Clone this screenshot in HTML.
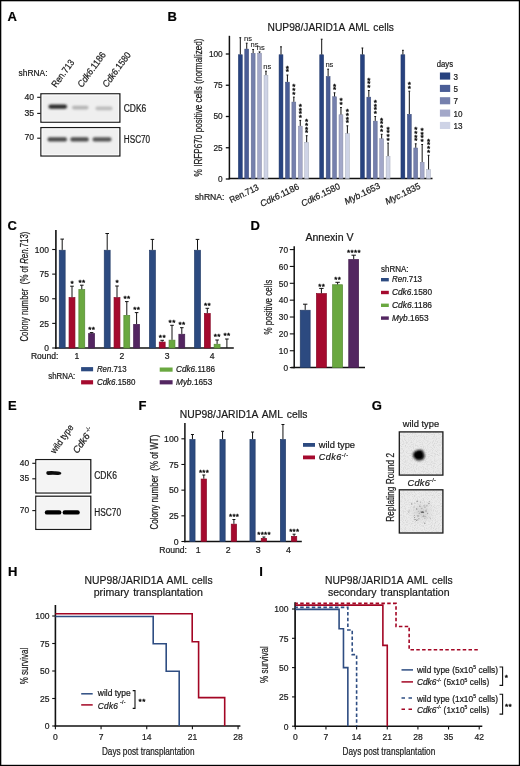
<!DOCTYPE html>
<html><head><meta charset="utf-8"><title>Figure</title>
<style>html,body{margin:0;padding:0;background:#fff;}svg{display:block;will-change:transform;}text{font-family:"Liberation Sans", sans-serif;stroke:#1a1a1a;stroke-width:0.22px;}</style>
</head><body>
<svg width="520" height="766" viewBox="0 0 520 766" font-family='"Liberation Sans", sans-serif' fill="#1a1a1a">
<rect x="0.00" y="0.00" width="520.00" height="766.00" fill="#fff"/>
<text x="7.60" y="20.60" font-size="13" font-weight="bold" fill="#000">A</text>
<text x="18.60" y="76.20" font-size="9" textLength="28.90" lengthAdjust="spacingAndGlyphs">shRNA:</text>
<text x="56.10" y="88.00" font-size="9.4" textLength="31.50" lengthAdjust="spacingAndGlyphs" transform="rotate(-54 56.10 88.00)">Ren.713</text>
<text x="82.10" y="88.00" font-size="9.4" textLength="41.00" lengthAdjust="spacingAndGlyphs" transform="rotate(-54 82.10 88.00)"><tspan font-style="italic">Cdk6</tspan>.1186</text>
<text x="107.10" y="88.00" font-size="9.4" textLength="41.00" lengthAdjust="spacingAndGlyphs" transform="rotate(-54 107.10 88.00)"><tspan font-style="italic">Cdk6</tspan>.1580</text>
<rect x="40.90" y="93.80" width="79.00" height="28.40" fill="#efefef" stroke="#1a1a1a" stroke-width="1.25"/>
<rect x="42.20" y="95.10" width="76.40" height="25.80" fill="none" stroke="#fbfbfb" stroke-width="0.9"/>
<rect x="40.90" y="127.60" width="79.00" height="28.40" fill="#efefef" stroke="#1a1a1a" stroke-width="1.25"/>
<rect x="42.20" y="128.90" width="76.40" height="25.80" fill="none" stroke="#fbfbfb" stroke-width="0.9"/>
<defs><filter id="bl" x="-20%" y="-50%" width="140%" height="200%"><feGaussianBlur stdDeviation="1.1"/></filter><filter id="bl2" x="-50%" y="-50%" width="200%" height="200%"><feGaussianBlur stdDeviation="1.6"/></filter><filter id="bl3" x="-50%" y="-50%" width="200%" height="200%"><feGaussianBlur stdDeviation="0.6"/></filter><filter id="bl4" x="-50%" y="-50%" width="200%" height="200%"><feGaussianBlur stdDeviation="0.9"/></filter></defs>
<g filter="url(#bl)">
<rect x="48.5" y="104.5" width="18.5" height="4.2" rx="2" fill="#2a2a2a"/>
<rect x="72" y="105.8" width="16.5" height="3.6" rx="1.8" fill="#b4b4b4"/>
<rect x="95.5" y="106.6" width="17" height="3.6" rx="1.8" fill="#bcbcbc"/>
<rect x="47.5" y="137.2" width="19.5" height="4.4" rx="2" fill="#4a4a4a"/>
<rect x="70.3" y="137.2" width="18.5" height="4.4" rx="2" fill="#4e4e4e"/>
<rect x="92.5" y="137.2" width="19" height="4.4" rx="2" fill="#555"/>
</g>
<line x1="37.20" y1="97.30" x2="40.60" y2="97.30" stroke="#111" stroke-width="1.1"/>
<text x="34.10" y="99.50" font-size="9.2" text-anchor="end" textLength="9.60" lengthAdjust="spacingAndGlyphs">40</text>
<line x1="37.20" y1="113.40" x2="40.60" y2="113.40" stroke="#111" stroke-width="1.1"/>
<text x="34.10" y="115.60" font-size="9.2" text-anchor="end" textLength="9.60" lengthAdjust="spacingAndGlyphs">35</text>
<line x1="37.20" y1="138.20" x2="40.60" y2="138.20" stroke="#111" stroke-width="1.1"/>
<text x="34.10" y="140.40" font-size="9.2" text-anchor="end" textLength="9.60" lengthAdjust="spacingAndGlyphs">70</text>
<text x="123.70" y="112.10" font-size="10" textLength="22.60" lengthAdjust="spacingAndGlyphs">CDK6</text>
<text x="123.80" y="142.80" font-size="10" textLength="26.30" lengthAdjust="spacingAndGlyphs">HSC70</text>
<text x="167.60" y="20.60" font-size="13" font-weight="bold" fill="#000">B</text>
<text x="267.60" y="30.80" font-size="11.5" textLength="126.20" lengthAdjust="spacingAndGlyphs" word-spacing="1.6">NUP98/JARID1A AML cells</text>
<line x1="229.40" y1="35.80" x2="229.40" y2="179.30" stroke="#111" stroke-width="1.5"/>
<line x1="228.70" y1="178.60" x2="432.50" y2="178.60" stroke="#111" stroke-width="1.5"/>
<line x1="225.80" y1="179.00" x2="229.40" y2="179.00" stroke="#111" stroke-width="1.3"/>
<text x="222.70" y="181.90" font-size="9.3" text-anchor="end" textLength="4.60" lengthAdjust="spacingAndGlyphs">0</text>
<line x1="225.80" y1="147.75" x2="229.40" y2="147.75" stroke="#111" stroke-width="1.3"/>
<text x="222.70" y="150.65" font-size="9.3" text-anchor="end" textLength="9.20" lengthAdjust="spacingAndGlyphs">25</text>
<line x1="225.80" y1="116.50" x2="229.40" y2="116.50" stroke="#111" stroke-width="1.3"/>
<text x="222.70" y="119.40" font-size="9.3" text-anchor="end" textLength="9.20" lengthAdjust="spacingAndGlyphs">50</text>
<line x1="225.80" y1="85.25" x2="229.40" y2="85.25" stroke="#111" stroke-width="1.3"/>
<text x="222.70" y="88.15" font-size="9.3" text-anchor="end" textLength="9.20" lengthAdjust="spacingAndGlyphs">75</text>
<line x1="225.80" y1="54.00" x2="229.40" y2="54.00" stroke="#111" stroke-width="1.3"/>
<text x="222.70" y="56.90" font-size="9.3" text-anchor="end" textLength="13.80" lengthAdjust="spacingAndGlyphs">100</text>
<text x="202.10" y="176.40" font-size="11.2" textLength="138.00" lengthAdjust="spacingAndGlyphs" transform="rotate(-90 202.10 176.40)">% IRFP670 positive cells (normalized)</text>
<rect x="238.35" y="54.75" width="3.90" height="123.85" fill="#27427f" stroke="#1f3668" stroke-width="0.5"/>
<line x1="240.30" y1="37.70" x2="240.30" y2="54.50" stroke="#111" stroke-width="1.0"/>
<line x1="239.40" y1="37.70" x2="241.20" y2="37.70" stroke="#111" stroke-width="1.0"/>
<rect x="244.77" y="49.05" width="3.90" height="129.55" fill="#4a5d96" stroke="#3c4c7a" stroke-width="0.5"/>
<line x1="246.72" y1="43.20" x2="246.72" y2="48.80" stroke="#111" stroke-width="1.0"/>
<line x1="245.82" y1="43.20" x2="247.62" y2="43.20" stroke="#111" stroke-width="1.0"/>
<text x="248.02" y="40.80" font-size="7.6" text-anchor="middle" textLength="8.00" lengthAdjust="spacingAndGlyphs" style="stroke-width:0.1px">ns</text>
<rect x="251.19" y="53.35" width="3.90" height="125.25" fill="#7580ad" stroke="#5f688d" stroke-width="0.5"/>
<line x1="253.14" y1="49.50" x2="253.14" y2="53.10" stroke="#111" stroke-width="1.0"/>
<line x1="252.24" y1="49.50" x2="254.04" y2="49.50" stroke="#111" stroke-width="1.0"/>
<text x="254.44" y="47.10" font-size="7.6" text-anchor="middle" textLength="8.00" lengthAdjust="spacingAndGlyphs" style="stroke-width:0.1px">ns</text>
<rect x="257.61" y="53.15" width="3.90" height="125.45" fill="#a3a8c9" stroke="#8589a4" stroke-width="0.5"/>
<line x1="259.56" y1="51.90" x2="259.56" y2="52.90" stroke="#111" stroke-width="1.0"/>
<line x1="258.66" y1="51.90" x2="260.46" y2="51.90" stroke="#111" stroke-width="1.0"/>
<text x="260.86" y="49.50" font-size="7.6" text-anchor="middle" textLength="8.00" lengthAdjust="spacingAndGlyphs" style="stroke-width:0.1px">ns</text>
<rect x="264.03" y="75.25" width="3.90" height="103.35" fill="#ced3e6" stroke="#a8adbc" stroke-width="0.5"/>
<line x1="265.98" y1="71.20" x2="265.98" y2="75.00" stroke="#111" stroke-width="1.0"/>
<line x1="265.08" y1="71.20" x2="266.88" y2="71.20" stroke="#111" stroke-width="1.0"/>
<text x="267.28" y="68.80" font-size="7.6" text-anchor="middle" textLength="8.00" lengthAdjust="spacingAndGlyphs" style="stroke-width:0.1px">ns</text>
<rect x="279.05" y="54.75" width="3.90" height="123.85" fill="#27427f" stroke="#1f3668" stroke-width="0.5"/>
<line x1="281.00" y1="46.80" x2="281.00" y2="54.50" stroke="#111" stroke-width="1.0"/>
<line x1="280.10" y1="46.80" x2="281.90" y2="46.80" stroke="#111" stroke-width="1.0"/>
<rect x="285.47" y="82.15" width="3.90" height="96.45" fill="#4a5d96" stroke="#3c4c7a" stroke-width="0.5"/>
<line x1="287.42" y1="75.00" x2="287.42" y2="81.90" stroke="#111" stroke-width="1.0"/>
<line x1="286.52" y1="75.00" x2="288.32" y2="75.00" stroke="#111" stroke-width="1.0"/>
<text x="287.42" y="74.46" font-size="8.12" text-anchor="middle" fill="#111" style="stroke:#111;stroke-width:0.4px">*</text>
<text x="287.42" y="70.81" font-size="8.12" text-anchor="middle" fill="#111" style="stroke:#111;stroke-width:0.4px">*</text>
<rect x="291.89" y="102.05" width="3.90" height="76.55" fill="#7580ad" stroke="#5f688d" stroke-width="0.5"/>
<line x1="293.84" y1="97.10" x2="293.84" y2="101.80" stroke="#111" stroke-width="1.0"/>
<line x1="292.94" y1="97.10" x2="294.74" y2="97.10" stroke="#111" stroke-width="1.0"/>
<text x="293.84" y="96.56" font-size="8.12" text-anchor="middle" fill="#111" style="stroke:#111;stroke-width:0.4px">*</text>
<text x="293.84" y="92.91" font-size="8.12" text-anchor="middle" fill="#111" style="stroke:#111;stroke-width:0.4px">*</text>
<text x="293.84" y="89.26" font-size="8.12" text-anchor="middle" fill="#111" style="stroke:#111;stroke-width:0.4px">*</text>
<rect x="298.31" y="126.15" width="3.90" height="52.45" fill="#a3a8c9" stroke="#8589a4" stroke-width="0.5"/>
<line x1="300.26" y1="120.40" x2="300.26" y2="125.90" stroke="#111" stroke-width="1.0"/>
<line x1="299.36" y1="120.40" x2="301.16" y2="120.40" stroke="#111" stroke-width="1.0"/>
<text x="300.26" y="119.86" font-size="8.12" text-anchor="middle" fill="#111" style="stroke:#111;stroke-width:0.4px">*</text>
<text x="300.26" y="116.21" font-size="8.12" text-anchor="middle" fill="#111" style="stroke:#111;stroke-width:0.4px">*</text>
<text x="300.26" y="112.56" font-size="8.12" text-anchor="middle" fill="#111" style="stroke:#111;stroke-width:0.4px">*</text>
<text x="300.26" y="108.91" font-size="8.12" text-anchor="middle" fill="#111" style="stroke:#111;stroke-width:0.4px">*</text>
<rect x="304.73" y="142.35" width="3.90" height="36.25" fill="#ced3e6" stroke="#a8adbc" stroke-width="0.5"/>
<line x1="306.68" y1="135.70" x2="306.68" y2="142.10" stroke="#111" stroke-width="1.0"/>
<line x1="305.78" y1="135.70" x2="307.58" y2="135.70" stroke="#111" stroke-width="1.0"/>
<text x="306.68" y="135.16" font-size="8.12" text-anchor="middle" fill="#111" style="stroke:#111;stroke-width:0.4px">*</text>
<text x="306.68" y="131.51" font-size="8.12" text-anchor="middle" fill="#111" style="stroke:#111;stroke-width:0.4px">*</text>
<text x="306.68" y="127.86" font-size="8.12" text-anchor="middle" fill="#111" style="stroke:#111;stroke-width:0.4px">*</text>
<text x="306.68" y="124.21" font-size="8.12" text-anchor="middle" fill="#111" style="stroke:#111;stroke-width:0.4px">*</text>
<rect x="319.75" y="54.75" width="3.90" height="123.85" fill="#27427f" stroke="#1f3668" stroke-width="0.5"/>
<line x1="321.70" y1="39.20" x2="321.70" y2="54.50" stroke="#111" stroke-width="1.0"/>
<line x1="320.80" y1="39.20" x2="322.60" y2="39.20" stroke="#111" stroke-width="1.0"/>
<rect x="326.17" y="76.45" width="3.90" height="102.15" fill="#4a5d96" stroke="#3c4c7a" stroke-width="0.5"/>
<line x1="328.12" y1="69.20" x2="328.12" y2="76.20" stroke="#111" stroke-width="1.0"/>
<line x1="327.22" y1="69.20" x2="329.02" y2="69.20" stroke="#111" stroke-width="1.0"/>
<text x="329.42" y="66.80" font-size="7.6" text-anchor="middle" textLength="8.00" lengthAdjust="spacingAndGlyphs" style="stroke-width:0.1px">ns</text>
<rect x="332.59" y="96.75" width="3.90" height="81.85" fill="#7580ad" stroke="#5f688d" stroke-width="0.5"/>
<line x1="334.54" y1="92.80" x2="334.54" y2="96.50" stroke="#111" stroke-width="1.0"/>
<line x1="333.64" y1="92.80" x2="335.44" y2="92.80" stroke="#111" stroke-width="1.0"/>
<text x="334.54" y="92.26" font-size="8.12" text-anchor="middle" fill="#111" style="stroke:#111;stroke-width:0.4px">*</text>
<text x="334.54" y="88.61" font-size="8.12" text-anchor="middle" fill="#111" style="stroke:#111;stroke-width:0.4px">*</text>
<rect x="339.01" y="114.75" width="3.90" height="63.85" fill="#a3a8c9" stroke="#8589a4" stroke-width="0.5"/>
<line x1="340.96" y1="107.50" x2="340.96" y2="114.50" stroke="#111" stroke-width="1.0"/>
<line x1="340.06" y1="107.50" x2="341.86" y2="107.50" stroke="#111" stroke-width="1.0"/>
<text x="340.96" y="106.96" font-size="8.12" text-anchor="middle" fill="#111" style="stroke:#111;stroke-width:0.4px">*</text>
<text x="340.96" y="103.31" font-size="8.12" text-anchor="middle" fill="#111" style="stroke:#111;stroke-width:0.4px">*</text>
<rect x="345.43" y="133.65" width="3.90" height="44.95" fill="#ced3e6" stroke="#a8adbc" stroke-width="0.5"/>
<line x1="347.38" y1="125.80" x2="347.38" y2="133.40" stroke="#111" stroke-width="1.0"/>
<line x1="346.48" y1="125.80" x2="348.28" y2="125.80" stroke="#111" stroke-width="1.0"/>
<text x="347.38" y="125.26" font-size="8.12" text-anchor="middle" fill="#111" style="stroke:#111;stroke-width:0.4px">*</text>
<text x="347.38" y="121.61" font-size="8.12" text-anchor="middle" fill="#111" style="stroke:#111;stroke-width:0.4px">*</text>
<text x="347.38" y="117.96" font-size="8.12" text-anchor="middle" fill="#111" style="stroke:#111;stroke-width:0.4px">*</text>
<text x="347.38" y="114.31" font-size="8.12" text-anchor="middle" fill="#111" style="stroke:#111;stroke-width:0.4px">*</text>
<rect x="360.45" y="54.75" width="3.90" height="123.85" fill="#27427f" stroke="#1f3668" stroke-width="0.5"/>
<line x1="362.40" y1="48.00" x2="362.40" y2="54.50" stroke="#111" stroke-width="1.0"/>
<line x1="361.50" y1="48.00" x2="363.30" y2="48.00" stroke="#111" stroke-width="1.0"/>
<rect x="366.87" y="97.15" width="3.90" height="81.45" fill="#4a5d96" stroke="#3c4c7a" stroke-width="0.5"/>
<line x1="368.82" y1="90.50" x2="368.82" y2="96.90" stroke="#111" stroke-width="1.0"/>
<line x1="367.92" y1="90.50" x2="369.72" y2="90.50" stroke="#111" stroke-width="1.0"/>
<text x="368.82" y="89.96" font-size="8.12" text-anchor="middle" fill="#111" style="stroke:#111;stroke-width:0.4px">*</text>
<text x="368.82" y="86.31" font-size="8.12" text-anchor="middle" fill="#111" style="stroke:#111;stroke-width:0.4px">*</text>
<text x="368.82" y="82.66" font-size="8.12" text-anchor="middle" fill="#111" style="stroke:#111;stroke-width:0.4px">*</text>
<rect x="373.29" y="121.15" width="3.90" height="57.45" fill="#7580ad" stroke="#5f688d" stroke-width="0.5"/>
<line x1="375.24" y1="116.50" x2="375.24" y2="120.90" stroke="#111" stroke-width="1.0"/>
<line x1="374.34" y1="116.50" x2="376.14" y2="116.50" stroke="#111" stroke-width="1.0"/>
<text x="375.24" y="115.96" font-size="8.12" text-anchor="middle" fill="#111" style="stroke:#111;stroke-width:0.4px">*</text>
<text x="375.24" y="112.31" font-size="8.12" text-anchor="middle" fill="#111" style="stroke:#111;stroke-width:0.4px">*</text>
<text x="375.24" y="108.66" font-size="8.12" text-anchor="middle" fill="#111" style="stroke:#111;stroke-width:0.4px">*</text>
<text x="375.24" y="105.01" font-size="8.12" text-anchor="middle" fill="#111" style="stroke:#111;stroke-width:0.4px">*</text>
<rect x="379.71" y="138.75" width="3.90" height="39.85" fill="#a3a8c9" stroke="#8589a4" stroke-width="0.5"/>
<line x1="381.66" y1="134.30" x2="381.66" y2="138.50" stroke="#111" stroke-width="1.0"/>
<line x1="380.76" y1="134.30" x2="382.56" y2="134.30" stroke="#111" stroke-width="1.0"/>
<text x="381.66" y="133.76" font-size="8.12" text-anchor="middle" fill="#111" style="stroke:#111;stroke-width:0.4px">*</text>
<text x="381.66" y="130.11" font-size="8.12" text-anchor="middle" fill="#111" style="stroke:#111;stroke-width:0.4px">*</text>
<text x="381.66" y="126.46" font-size="8.12" text-anchor="middle" fill="#111" style="stroke:#111;stroke-width:0.4px">*</text>
<text x="381.66" y="122.81" font-size="8.12" text-anchor="middle" fill="#111" style="stroke:#111;stroke-width:0.4px">*</text>
<rect x="386.13" y="156.25" width="3.90" height="22.35" fill="#ced3e6" stroke="#a8adbc" stroke-width="0.5"/>
<line x1="388.08" y1="143.10" x2="388.08" y2="156.00" stroke="#111" stroke-width="1.0"/>
<line x1="387.18" y1="143.10" x2="388.98" y2="143.10" stroke="#111" stroke-width="1.0"/>
<text x="388.08" y="142.56" font-size="8.12" text-anchor="middle" fill="#111" style="stroke:#111;stroke-width:0.4px">*</text>
<text x="388.08" y="138.91" font-size="8.12" text-anchor="middle" fill="#111" style="stroke:#111;stroke-width:0.4px">*</text>
<text x="388.08" y="135.26" font-size="8.12" text-anchor="middle" fill="#111" style="stroke:#111;stroke-width:0.4px">*</text>
<text x="388.08" y="131.61" font-size="8.12" text-anchor="middle" fill="#111" style="stroke:#111;stroke-width:0.4px">*</text>
<rect x="400.95" y="54.75" width="3.90" height="123.85" fill="#27427f" stroke="#1f3668" stroke-width="0.5"/>
<line x1="402.90" y1="50.30" x2="402.90" y2="54.50" stroke="#111" stroke-width="1.0"/>
<line x1="402.00" y1="50.30" x2="403.80" y2="50.30" stroke="#111" stroke-width="1.0"/>
<rect x="407.37" y="114.25" width="3.90" height="64.35" fill="#4a5d96" stroke="#3c4c7a" stroke-width="0.5"/>
<line x1="409.32" y1="91.20" x2="409.32" y2="114.00" stroke="#111" stroke-width="1.0"/>
<line x1="408.42" y1="91.20" x2="410.22" y2="91.20" stroke="#111" stroke-width="1.0"/>
<text x="409.32" y="90.66" font-size="8.12" text-anchor="middle" fill="#111" style="stroke:#111;stroke-width:0.4px">*</text>
<text x="409.32" y="87.01" font-size="8.12" text-anchor="middle" fill="#111" style="stroke:#111;stroke-width:0.4px">*</text>
<rect x="413.79" y="147.95" width="3.90" height="30.65" fill="#7580ad" stroke="#5f688d" stroke-width="0.5"/>
<line x1="415.74" y1="143.80" x2="415.74" y2="147.70" stroke="#111" stroke-width="1.0"/>
<line x1="414.84" y1="143.80" x2="416.64" y2="143.80" stroke="#111" stroke-width="1.0"/>
<text x="415.74" y="143.26" font-size="8.12" text-anchor="middle" fill="#111" style="stroke:#111;stroke-width:0.4px">*</text>
<text x="415.74" y="139.61" font-size="8.12" text-anchor="middle" fill="#111" style="stroke:#111;stroke-width:0.4px">*</text>
<text x="415.74" y="135.96" font-size="8.12" text-anchor="middle" fill="#111" style="stroke:#111;stroke-width:0.4px">*</text>
<text x="415.74" y="132.31" font-size="8.12" text-anchor="middle" fill="#111" style="stroke:#111;stroke-width:0.4px">*</text>
<rect x="420.21" y="162.25" width="3.90" height="16.35" fill="#a3a8c9" stroke="#8589a4" stroke-width="0.5"/>
<line x1="422.16" y1="144.50" x2="422.16" y2="162.00" stroke="#111" stroke-width="1.0"/>
<line x1="421.26" y1="144.50" x2="423.06" y2="144.50" stroke="#111" stroke-width="1.0"/>
<text x="422.16" y="143.96" font-size="8.12" text-anchor="middle" fill="#111" style="stroke:#111;stroke-width:0.4px">*</text>
<text x="422.16" y="140.31" font-size="8.12" text-anchor="middle" fill="#111" style="stroke:#111;stroke-width:0.4px">*</text>
<text x="422.16" y="136.66" font-size="8.12" text-anchor="middle" fill="#111" style="stroke:#111;stroke-width:0.4px">*</text>
<text x="422.16" y="133.01" font-size="8.12" text-anchor="middle" fill="#111" style="stroke:#111;stroke-width:0.4px">*</text>
<rect x="426.63" y="169.65" width="3.90" height="8.95" fill="#ced3e6" stroke="#a8adbc" stroke-width="0.5"/>
<line x1="428.58" y1="155.30" x2="428.58" y2="169.40" stroke="#111" stroke-width="1.0"/>
<line x1="427.68" y1="155.30" x2="429.48" y2="155.30" stroke="#111" stroke-width="1.0"/>
<text x="428.58" y="154.76" font-size="8.12" text-anchor="middle" fill="#111" style="stroke:#111;stroke-width:0.4px">*</text>
<text x="428.58" y="151.11" font-size="8.12" text-anchor="middle" fill="#111" style="stroke:#111;stroke-width:0.4px">*</text>
<text x="428.58" y="147.46" font-size="8.12" text-anchor="middle" fill="#111" style="stroke:#111;stroke-width:0.4px">*</text>
<text x="428.58" y="143.81" font-size="8.12" text-anchor="middle" fill="#111" style="stroke:#111;stroke-width:0.4px">*</text>
<text x="194.80" y="199.50" font-size="9" textLength="29.70" lengthAdjust="spacingAndGlyphs">shRNA:</text>
<text x="231.20" y="203.20" font-size="9" textLength="31.50" lengthAdjust="spacingAndGlyphs" transform="rotate(-26 231.20 203.20)">Ren.713</text>
<text x="262.10" y="207.10" font-size="9" textLength="42.00" lengthAdjust="spacingAndGlyphs" transform="rotate(-26 262.10 207.10)"><tspan font-style="italic">Cdk6</tspan>.1186</text>
<text x="303.00" y="206.80" font-size="9" textLength="42.00" lengthAdjust="spacingAndGlyphs" transform="rotate(-26 303.00 206.80)"><tspan font-style="italic">Cdk6</tspan>.1580</text>
<text x="346.20" y="204.80" font-size="9" textLength="38.50" lengthAdjust="spacingAndGlyphs" transform="rotate(-26 346.20 204.80)"><tspan font-style="italic">Myb</tspan>.1653</text>
<text x="386.90" y="204.80" font-size="9" textLength="38.00" lengthAdjust="spacingAndGlyphs" transform="rotate(-26 386.90 204.80)"><tspan font-style="italic">Myc</tspan>.1835</text>
<text x="436.80" y="67.30" font-size="8.4" textLength="16.30" lengthAdjust="spacingAndGlyphs">days</text>
<rect x="439.90" y="72.50" width="10.30" height="7.10" fill="#27427f"/>
<text x="453.40" y="79.60" font-size="9.0" textLength="4.50" lengthAdjust="spacingAndGlyphs">3</text>
<rect x="439.90" y="84.85" width="10.30" height="7.10" fill="#4a5d96"/>
<text x="453.40" y="91.95" font-size="9.0" textLength="4.50" lengthAdjust="spacingAndGlyphs">5</text>
<rect x="439.90" y="97.20" width="10.30" height="7.10" fill="#7580ad"/>
<text x="453.40" y="104.30" font-size="9.0" textLength="4.50" lengthAdjust="spacingAndGlyphs">7</text>
<rect x="439.90" y="109.55" width="10.30" height="7.10" fill="#a3a8c9"/>
<text x="453.40" y="116.65" font-size="9.0" textLength="9.00" lengthAdjust="spacingAndGlyphs">10</text>
<rect x="439.90" y="121.90" width="10.30" height="7.10" fill="#ced3e6"/>
<text x="453.40" y="129.00" font-size="9.0" textLength="9.00" lengthAdjust="spacingAndGlyphs">13</text>
<text x="7.40" y="229.70" font-size="13" font-weight="bold" fill="#000">C</text>
<line x1="55.90" y1="230.10" x2="55.90" y2="348.70" stroke="#111" stroke-width="1.6"/>
<line x1="55.10" y1="348.00" x2="233.80" y2="348.00" stroke="#111" stroke-width="1.5"/>
<line x1="52.20" y1="348.00" x2="55.90" y2="348.00" stroke="#111" stroke-width="1.1"/>
<text x="48.90" y="351.20" font-size="9.0" text-anchor="end" textLength="4.70" lengthAdjust="spacingAndGlyphs">0</text>
<line x1="52.20" y1="323.38" x2="55.90" y2="323.38" stroke="#111" stroke-width="1.1"/>
<text x="48.90" y="326.57" font-size="9.0" text-anchor="end" textLength="9.40" lengthAdjust="spacingAndGlyphs">25</text>
<line x1="52.20" y1="298.75" x2="55.90" y2="298.75" stroke="#111" stroke-width="1.1"/>
<text x="48.90" y="301.95" font-size="9.0" text-anchor="end" textLength="9.40" lengthAdjust="spacingAndGlyphs">50</text>
<line x1="52.20" y1="274.12" x2="55.90" y2="274.12" stroke="#111" stroke-width="1.1"/>
<text x="48.90" y="277.32" font-size="9.0" text-anchor="end" textLength="9.40" lengthAdjust="spacingAndGlyphs">75</text>
<line x1="52.20" y1="249.50" x2="55.90" y2="249.50" stroke="#111" stroke-width="1.1"/>
<text x="48.90" y="252.70" font-size="9.0" text-anchor="end" textLength="14.10" lengthAdjust="spacingAndGlyphs">100</text>
<text x="27.80" y="341.60" font-size="10.0" textLength="110.00" lengthAdjust="spacingAndGlyphs" transform="rotate(-90 27.80 341.60)">Colony number  (% of <tspan font-style="italic">Ren</tspan>.713)</text>
<rect x="59.25" y="250.25" width="5.90" height="97.75" fill="#2c4a80" stroke="#243c68" stroke-width="0.7"/>
<line x1="62.20" y1="239.10" x2="62.20" y2="249.90" stroke="#111" stroke-width="1.0"/>
<line x1="60.40" y1="239.10" x2="64.00" y2="239.10" stroke="#111" stroke-width="1.0"/>
<rect x="69.05" y="297.65" width="5.90" height="50.35" fill="#a50a2e" stroke="#870825" stroke-width="0.7"/>
<line x1="72.00" y1="286.20" x2="72.00" y2="297.30" stroke="#111" stroke-width="1.0"/>
<line x1="70.20" y1="286.20" x2="73.80" y2="286.20" stroke="#111" stroke-width="1.0"/>
<text x="72.00" y="285.66" font-size="8.12" text-anchor="middle" fill="#111" style="stroke:#111;stroke-width:0.4px">*</text>
<rect x="78.85" y="289.65" width="5.90" height="58.35" fill="#6aa840" stroke="#568934" stroke-width="0.7"/>
<line x1="81.80" y1="285.20" x2="81.80" y2="289.30" stroke="#111" stroke-width="1.0"/>
<line x1="80.00" y1="285.20" x2="83.60" y2="285.20" stroke="#111" stroke-width="1.0"/>
<text x="80.00" y="284.66" font-size="8.12" text-anchor="middle" fill="#111" style="stroke:#111;stroke-width:0.4px">*</text>
<text x="83.60" y="284.66" font-size="8.12" text-anchor="middle" fill="#111" style="stroke:#111;stroke-width:0.4px">*</text>
<rect x="88.65" y="333.60" width="5.90" height="14.40" fill="#532661" stroke="#441f4f" stroke-width="0.7"/>
<line x1="91.60" y1="332.60" x2="91.60" y2="333.25" stroke="#111" stroke-width="1.0"/>
<line x1="89.80" y1="332.60" x2="93.40" y2="332.60" stroke="#111" stroke-width="1.0"/>
<text x="89.80" y="332.06" font-size="8.12" text-anchor="middle" fill="#111" style="stroke:#111;stroke-width:0.4px">*</text>
<text x="93.40" y="332.06" font-size="8.12" text-anchor="middle" fill="#111" style="stroke:#111;stroke-width:0.4px">*</text>
<rect x="104.25" y="250.25" width="5.90" height="97.75" fill="#2c4a80" stroke="#243c68" stroke-width="0.7"/>
<line x1="107.20" y1="233.50" x2="107.20" y2="249.90" stroke="#111" stroke-width="1.0"/>
<line x1="105.40" y1="233.50" x2="109.00" y2="233.50" stroke="#111" stroke-width="1.0"/>
<rect x="114.05" y="297.65" width="5.90" height="50.35" fill="#a50a2e" stroke="#870825" stroke-width="0.7"/>
<line x1="117.00" y1="286.00" x2="117.00" y2="297.30" stroke="#111" stroke-width="1.0"/>
<line x1="115.20" y1="286.00" x2="118.80" y2="286.00" stroke="#111" stroke-width="1.0"/>
<text x="117.00" y="285.46" font-size="8.12" text-anchor="middle" fill="#111" style="stroke:#111;stroke-width:0.4px">*</text>
<rect x="123.85" y="315.35" width="5.90" height="32.65" fill="#6aa840" stroke="#568934" stroke-width="0.7"/>
<line x1="126.80" y1="301.60" x2="126.80" y2="315.00" stroke="#111" stroke-width="1.0"/>
<line x1="125.00" y1="301.60" x2="128.60" y2="301.60" stroke="#111" stroke-width="1.0"/>
<text x="125.00" y="301.06" font-size="8.12" text-anchor="middle" fill="#111" style="stroke:#111;stroke-width:0.4px">*</text>
<text x="128.60" y="301.06" font-size="8.12" text-anchor="middle" fill="#111" style="stroke:#111;stroke-width:0.4px">*</text>
<rect x="133.65" y="324.35" width="5.90" height="23.65" fill="#532661" stroke="#441f4f" stroke-width="0.7"/>
<line x1="136.60" y1="312.60" x2="136.60" y2="324.00" stroke="#111" stroke-width="1.0"/>
<line x1="134.80" y1="312.60" x2="138.40" y2="312.60" stroke="#111" stroke-width="1.0"/>
<text x="134.80" y="312.06" font-size="8.12" text-anchor="middle" fill="#111" style="stroke:#111;stroke-width:0.4px">*</text>
<text x="138.40" y="312.06" font-size="8.12" text-anchor="middle" fill="#111" style="stroke:#111;stroke-width:0.4px">*</text>
<rect x="149.45" y="250.25" width="5.90" height="97.75" fill="#2c4a80" stroke="#243c68" stroke-width="0.7"/>
<line x1="152.40" y1="239.40" x2="152.40" y2="249.90" stroke="#111" stroke-width="1.0"/>
<line x1="150.60" y1="239.40" x2="154.20" y2="239.40" stroke="#111" stroke-width="1.0"/>
<rect x="159.25" y="342.05" width="5.90" height="5.95" fill="#a50a2e" stroke="#870825" stroke-width="0.7"/>
<line x1="162.20" y1="340.30" x2="162.20" y2="341.70" stroke="#111" stroke-width="1.0"/>
<line x1="160.40" y1="340.30" x2="164.00" y2="340.30" stroke="#111" stroke-width="1.0"/>
<text x="160.40" y="339.76" font-size="8.12" text-anchor="middle" fill="#111" style="stroke:#111;stroke-width:0.4px">*</text>
<text x="164.00" y="339.76" font-size="8.12" text-anchor="middle" fill="#111" style="stroke:#111;stroke-width:0.4px">*</text>
<rect x="169.05" y="340.15" width="5.90" height="7.85" fill="#6aa840" stroke="#568934" stroke-width="0.7"/>
<line x1="172.00" y1="325.30" x2="172.00" y2="339.80" stroke="#111" stroke-width="1.0"/>
<line x1="170.20" y1="325.30" x2="173.80" y2="325.30" stroke="#111" stroke-width="1.0"/>
<text x="170.20" y="324.76" font-size="8.12" text-anchor="middle" fill="#111" style="stroke:#111;stroke-width:0.4px">*</text>
<text x="173.80" y="324.76" font-size="8.12" text-anchor="middle" fill="#111" style="stroke:#111;stroke-width:0.4px">*</text>
<rect x="178.85" y="334.25" width="5.90" height="13.75" fill="#532661" stroke="#441f4f" stroke-width="0.7"/>
<line x1="181.80" y1="327.70" x2="181.80" y2="333.90" stroke="#111" stroke-width="1.0"/>
<line x1="180.00" y1="327.70" x2="183.60" y2="327.70" stroke="#111" stroke-width="1.0"/>
<text x="180.00" y="327.16" font-size="8.12" text-anchor="middle" fill="#111" style="stroke:#111;stroke-width:0.4px">*</text>
<text x="183.60" y="327.16" font-size="8.12" text-anchor="middle" fill="#111" style="stroke:#111;stroke-width:0.4px">*</text>
<rect x="194.55" y="250.25" width="5.90" height="97.75" fill="#2c4a80" stroke="#243c68" stroke-width="0.7"/>
<line x1="197.50" y1="239.40" x2="197.50" y2="249.90" stroke="#111" stroke-width="1.0"/>
<line x1="195.70" y1="239.40" x2="199.30" y2="239.40" stroke="#111" stroke-width="1.0"/>
<rect x="204.35" y="313.55" width="5.90" height="34.45" fill="#a50a2e" stroke="#870825" stroke-width="0.7"/>
<line x1="207.30" y1="308.30" x2="207.30" y2="313.20" stroke="#111" stroke-width="1.0"/>
<line x1="205.50" y1="308.30" x2="209.10" y2="308.30" stroke="#111" stroke-width="1.0"/>
<text x="205.50" y="307.76" font-size="8.12" text-anchor="middle" fill="#111" style="stroke:#111;stroke-width:0.4px">*</text>
<text x="209.10" y="307.76" font-size="8.12" text-anchor="middle" fill="#111" style="stroke:#111;stroke-width:0.4px">*</text>
<rect x="214.15" y="344.25" width="5.90" height="3.75" fill="#6aa840" stroke="#568934" stroke-width="0.7"/>
<line x1="217.10" y1="340.00" x2="217.10" y2="343.90" stroke="#111" stroke-width="1.0"/>
<line x1="215.30" y1="340.00" x2="218.90" y2="340.00" stroke="#111" stroke-width="1.0"/>
<text x="215.30" y="339.46" font-size="8.12" text-anchor="middle" fill="#111" style="stroke:#111;stroke-width:0.4px">*</text>
<text x="218.90" y="339.46" font-size="8.12" text-anchor="middle" fill="#111" style="stroke:#111;stroke-width:0.4px">*</text>
<line x1="226.90" y1="339.00" x2="226.90" y2="347.90" stroke="#111" stroke-width="1.0"/>
<line x1="225.10" y1="339.00" x2="228.70" y2="339.00" stroke="#111" stroke-width="1.0"/>
<text x="225.10" y="338.46" font-size="8.12" text-anchor="middle" fill="#111" style="stroke:#111;stroke-width:0.4px">*</text>
<text x="228.70" y="338.46" font-size="8.12" text-anchor="middle" fill="#111" style="stroke:#111;stroke-width:0.4px">*</text>
<text x="30.90" y="359.00" font-size="8.6" textLength="27.50" lengthAdjust="spacingAndGlyphs">Round:</text>
<text x="76.90" y="359.00" font-size="8.6" text-anchor="middle">1</text>
<text x="121.90" y="359.00" font-size="8.6" text-anchor="middle">2</text>
<text x="167.10" y="359.00" font-size="8.6" text-anchor="middle">3</text>
<text x="212.20" y="359.00" font-size="8.6" text-anchor="middle">4</text>
<text x="48.30" y="379.10" font-size="8.6" textLength="27.00" lengthAdjust="spacingAndGlyphs">shRNA:</text>
<rect x="81.10" y="367.10" width="12.00" height="4.20" fill="#2c4a80"/>
<text x="96.90" y="371.70" font-size="8.6" textLength="29.60" lengthAdjust="spacingAndGlyphs"><tspan font-style="italic">Ren</tspan>.713</text>
<rect x="81.10" y="380.20" width="12.00" height="4.20" fill="#a50a2e"/>
<text x="96.90" y="384.80" font-size="8.6" textLength="38.50" lengthAdjust="spacingAndGlyphs"><tspan font-style="italic">Cdk6</tspan>.1580</text>
<rect x="159.70" y="367.50" width="12.90" height="4.20" fill="#6aa840"/>
<text x="176.00" y="371.90" font-size="8.6" textLength="39.00" lengthAdjust="spacingAndGlyphs"><tspan font-style="italic">Cdk6</tspan>.1186</text>
<rect x="159.70" y="380.20" width="12.90" height="4.20" fill="#532661"/>
<text x="176.00" y="384.80" font-size="8.6" textLength="36.30" lengthAdjust="spacingAndGlyphs"><tspan font-style="italic">Myb</tspan>.1653</text>
<text x="250.60" y="230.30" font-size="13" font-weight="bold" fill="#000">D</text>
<text x="305.40" y="240.50" font-size="10.2" textLength="48.20" lengthAdjust="spacingAndGlyphs">Annexin V</text>
<line x1="294.20" y1="246.30" x2="294.20" y2="368.30" stroke="#111" stroke-width="1.5"/>
<line x1="291.20" y1="367.60" x2="365.00" y2="367.60" stroke="#111" stroke-width="1.5"/>
<line x1="289.80" y1="367.60" x2="294.20" y2="367.60" stroke="#111" stroke-width="1.1"/>
<text x="288.00" y="370.80" font-size="9.0" text-anchor="end" textLength="4.60" lengthAdjust="spacingAndGlyphs">0</text>
<line x1="289.80" y1="350.74" x2="294.20" y2="350.74" stroke="#111" stroke-width="1.1"/>
<text x="288.00" y="353.94" font-size="9.0" text-anchor="end" textLength="9.20" lengthAdjust="spacingAndGlyphs">10</text>
<line x1="289.80" y1="333.88" x2="294.20" y2="333.88" stroke="#111" stroke-width="1.1"/>
<text x="288.00" y="337.08" font-size="9.0" text-anchor="end" textLength="9.20" lengthAdjust="spacingAndGlyphs">20</text>
<line x1="289.80" y1="317.02" x2="294.20" y2="317.02" stroke="#111" stroke-width="1.1"/>
<text x="288.00" y="320.22" font-size="9.0" text-anchor="end" textLength="9.20" lengthAdjust="spacingAndGlyphs">30</text>
<line x1="289.80" y1="300.16" x2="294.20" y2="300.16" stroke="#111" stroke-width="1.1"/>
<text x="288.00" y="303.36" font-size="9.0" text-anchor="end" textLength="9.20" lengthAdjust="spacingAndGlyphs">40</text>
<line x1="289.80" y1="283.30" x2="294.20" y2="283.30" stroke="#111" stroke-width="1.1"/>
<text x="288.00" y="286.50" font-size="9.0" text-anchor="end" textLength="9.20" lengthAdjust="spacingAndGlyphs">50</text>
<line x1="289.80" y1="266.44" x2="294.20" y2="266.44" stroke="#111" stroke-width="1.1"/>
<text x="288.00" y="269.64" font-size="9.0" text-anchor="end" textLength="9.20" lengthAdjust="spacingAndGlyphs">60</text>
<line x1="289.80" y1="249.58" x2="294.20" y2="249.58" stroke="#111" stroke-width="1.1"/>
<text x="288.00" y="252.78" font-size="9.0" text-anchor="end" textLength="9.20" lengthAdjust="spacingAndGlyphs">70</text>
<text x="272.10" y="334.60" font-size="10.9" textLength="55.00" lengthAdjust="spacingAndGlyphs" transform="rotate(-90 272.10 334.60)">% positive cells</text>
<rect x="300.25" y="310.25" width="9.90" height="57.35" fill="#2c4a80" stroke="#243c68" stroke-width="0.7"/>
<line x1="305.20" y1="304.20" x2="305.20" y2="309.90" stroke="#111" stroke-width="1.0"/>
<line x1="303.00" y1="304.20" x2="307.40" y2="304.20" stroke="#111" stroke-width="1.0"/>
<rect x="316.45" y="293.65" width="9.90" height="73.95" fill="#a50a2e" stroke="#870825" stroke-width="0.7"/>
<line x1="321.40" y1="288.40" x2="321.40" y2="293.30" stroke="#111" stroke-width="1.0"/>
<line x1="319.20" y1="288.40" x2="323.60" y2="288.40" stroke="#111" stroke-width="1.0"/>
<text x="319.65" y="288.56" font-size="7.83" text-anchor="middle" fill="#111" style="stroke:#111;stroke-width:0.4px">*</text>
<text x="323.15" y="288.56" font-size="7.83" text-anchor="middle" fill="#111" style="stroke:#111;stroke-width:0.4px">*</text>
<rect x="332.65" y="284.75" width="9.90" height="82.85" fill="#6aa840" stroke="#568934" stroke-width="0.7"/>
<line x1="337.60" y1="282.30" x2="337.60" y2="284.40" stroke="#111" stroke-width="1.0"/>
<line x1="335.40" y1="282.30" x2="339.80" y2="282.30" stroke="#111" stroke-width="1.0"/>
<text x="335.85" y="282.46" font-size="7.83" text-anchor="middle" fill="#111" style="stroke:#111;stroke-width:0.4px">*</text>
<text x="339.35" y="282.46" font-size="7.83" text-anchor="middle" fill="#111" style="stroke:#111;stroke-width:0.4px">*</text>
<rect x="348.75" y="259.45" width="9.90" height="108.15" fill="#532661" stroke="#441f4f" stroke-width="0.7"/>
<line x1="353.70" y1="255.20" x2="353.70" y2="259.10" stroke="#111" stroke-width="1.0"/>
<line x1="351.50" y1="255.20" x2="355.90" y2="255.20" stroke="#111" stroke-width="1.0"/>
<text x="348.45" y="255.36" font-size="7.83" text-anchor="middle" fill="#111" style="stroke:#111;stroke-width:0.4px">*</text>
<text x="351.95" y="255.36" font-size="7.83" text-anchor="middle" fill="#111" style="stroke:#111;stroke-width:0.4px">*</text>
<text x="355.45" y="255.36" font-size="7.83" text-anchor="middle" fill="#111" style="stroke:#111;stroke-width:0.4px">*</text>
<text x="358.95" y="255.36" font-size="7.83" text-anchor="middle" fill="#111" style="stroke:#111;stroke-width:0.4px">*</text>
<text x="381.00" y="271.50" font-size="8.6" textLength="27.50" lengthAdjust="spacingAndGlyphs">shRNA:</text>
<rect x="381.00" y="278.00" width="7.80" height="3.40" fill="#2c4a80"/>
<text x="392.00" y="282.40" font-size="8.6" textLength="30.00" lengthAdjust="spacingAndGlyphs"><tspan font-style="italic">Ren</tspan>.713</text>
<rect x="381.00" y="290.80" width="7.80" height="3.40" fill="#a50a2e"/>
<text x="392.00" y="295.20" font-size="8.6" textLength="40.00" lengthAdjust="spacingAndGlyphs"><tspan font-style="italic">Cdk6</tspan>.1580</text>
<rect x="381.00" y="303.60" width="7.80" height="3.40" fill="#6aa840"/>
<text x="392.00" y="308.00" font-size="8.6" textLength="40.00" lengthAdjust="spacingAndGlyphs"><tspan font-style="italic">Cdk6</tspan>.1186</text>
<rect x="381.00" y="316.40" width="7.80" height="3.40" fill="#532661"/>
<text x="392.00" y="320.80" font-size="8.6" textLength="36.60" lengthAdjust="spacingAndGlyphs"><tspan font-style="italic">Myb</tspan>.1653</text>
<text x="7.90" y="410.20" font-size="13" font-weight="bold" fill="#000">E</text>
<text x="55.00" y="454.30" font-size="9.4" textLength="33.00" lengthAdjust="spacingAndGlyphs" transform="rotate(-55 55.00 454.30)">wild type</text>
<text x="77.6" y="454.0" font-size="9.4" transform="rotate(-55 77.6 454.0)" fill="#1a1a1a"><tspan font-style="italic">Cdk6</tspan><tspan font-size="5.6" dy="-3.8"> -/-</tspan></text>
<rect x="35.80" y="459.60" width="55.00" height="33.40" fill="#f4f4f4" stroke="#1a1a1a" stroke-width="1.25"/>
<rect x="37.10" y="460.90" width="52.40" height="30.80" fill="none" stroke="#fbfbfb" stroke-width="0.9"/>
<rect x="35.80" y="496.20" width="55.00" height="33.20" fill="#f4f4f4" stroke="#1a1a1a" stroke-width="1.25"/>
<rect x="37.10" y="497.50" width="52.40" height="30.60" fill="none" stroke="#fbfbfb" stroke-width="0.9"/>
<g filter="url(#bl3)">
<path d="M47.2 471.2 Q54 470.9 58 471.5 Q61.5 471.9 61.4 473.3 Q61.2 475.1 57.5 474.9 Q53 474.6 48 474.9 Q46.2 474.8 46.3 473 Q46.5 471.3 47.2 471.2Z" fill="#0a0a0a"/>
<rect x="44.8" y="510.2" width="16.6" height="4.4" rx="2.2" fill="#050505"/>
<rect x="62.6" y="510.2" width="17.2" height="4.4" rx="2.2" fill="#050505"/>
</g>
<line x1="32.30" y1="463.30" x2="35.80" y2="463.30" stroke="#111" stroke-width="1.1"/>
<text x="29.10" y="465.90" font-size="9.2" text-anchor="end" textLength="9.30" lengthAdjust="spacingAndGlyphs">40</text>
<line x1="32.30" y1="478.80" x2="35.80" y2="478.80" stroke="#111" stroke-width="1.1"/>
<text x="29.10" y="481.40" font-size="9.2" text-anchor="end" textLength="9.30" lengthAdjust="spacingAndGlyphs">35</text>
<line x1="32.30" y1="510.60" x2="35.80" y2="510.60" stroke="#111" stroke-width="1.1"/>
<text x="29.10" y="513.20" font-size="9.2" text-anchor="end" textLength="9.30" lengthAdjust="spacingAndGlyphs">70</text>
<text x="94.20" y="479.10" font-size="10" textLength="22.70" lengthAdjust="spacingAndGlyphs">CDK6</text>
<text x="94.30" y="515.70" font-size="10" textLength="26.80" lengthAdjust="spacingAndGlyphs">HSC70</text>
<text x="138.60" y="410.00" font-size="13" font-weight="bold" fill="#000">F</text>
<text x="179.80" y="417.90" font-size="11.5" textLength="127.70" lengthAdjust="spacingAndGlyphs" word-spacing="1.6">NUP98/JARID1A AML cells</text>
<line x1="184.90" y1="423.00" x2="184.90" y2="542.20" stroke="#111" stroke-width="1.5"/>
<line x1="184.20" y1="541.50" x2="301.80" y2="541.50" stroke="#111" stroke-width="1.5"/>
<line x1="181.40" y1="541.50" x2="184.90" y2="541.50" stroke="#111" stroke-width="1.1"/>
<text x="178.60" y="544.70" font-size="9.0" text-anchor="end" textLength="4.85" lengthAdjust="spacingAndGlyphs">0</text>
<line x1="181.40" y1="515.83" x2="184.90" y2="515.83" stroke="#111" stroke-width="1.1"/>
<text x="178.60" y="519.03" font-size="9.0" text-anchor="end" textLength="9.70" lengthAdjust="spacingAndGlyphs">25</text>
<line x1="181.40" y1="490.15" x2="184.90" y2="490.15" stroke="#111" stroke-width="1.1"/>
<text x="178.60" y="493.35" font-size="9.0" text-anchor="end" textLength="9.70" lengthAdjust="spacingAndGlyphs">50</text>
<line x1="181.40" y1="464.48" x2="184.90" y2="464.48" stroke="#111" stroke-width="1.1"/>
<text x="178.60" y="467.68" font-size="9.0" text-anchor="end" textLength="9.70" lengthAdjust="spacingAndGlyphs">75</text>
<line x1="181.40" y1="438.80" x2="184.90" y2="438.80" stroke="#111" stroke-width="1.1"/>
<text x="178.60" y="442.00" font-size="9.0" text-anchor="end" textLength="14.55" lengthAdjust="spacingAndGlyphs">100</text>
<text x="157.90" y="529.60" font-size="10.3" textLength="95.00" lengthAdjust="spacingAndGlyphs" transform="rotate(-90 157.90 529.60)">Colony number  (% of WT)</text>
<rect x="189.85" y="439.55" width="5.20" height="101.95" fill="#2c4a80" stroke="#243c68" stroke-width="0.7"/>
<line x1="192.45" y1="434.50" x2="192.45" y2="439.20" stroke="#111" stroke-width="1.0"/>
<line x1="190.95" y1="434.50" x2="193.95" y2="434.50" stroke="#111" stroke-width="1.0"/>
<rect x="201.15" y="479.05" width="5.30" height="62.45" fill="#a50a2e" stroke="#870825" stroke-width="0.7"/>
<line x1="203.80" y1="475.00" x2="203.80" y2="478.70" stroke="#111" stroke-width="1.0"/>
<line x1="202.30" y1="475.00" x2="205.30" y2="475.00" stroke="#111" stroke-width="1.0"/>
<text x="200.40" y="474.56" font-size="7.83" text-anchor="middle" fill="#111" style="stroke:#111;stroke-width:0.4px">*</text>
<text x="203.80" y="474.56" font-size="7.83" text-anchor="middle" fill="#111" style="stroke:#111;stroke-width:0.4px">*</text>
<text x="207.20" y="474.56" font-size="7.83" text-anchor="middle" fill="#111" style="stroke:#111;stroke-width:0.4px">*</text>
<rect x="219.95" y="439.55" width="5.20" height="101.95" fill="#2c4a80" stroke="#243c68" stroke-width="0.7"/>
<line x1="222.55" y1="431.30" x2="222.55" y2="439.20" stroke="#111" stroke-width="1.0"/>
<line x1="221.05" y1="431.30" x2="224.05" y2="431.30" stroke="#111" stroke-width="1.0"/>
<rect x="231.25" y="524.15" width="5.30" height="17.35" fill="#a50a2e" stroke="#870825" stroke-width="0.7"/>
<line x1="233.90" y1="519.50" x2="233.90" y2="523.80" stroke="#111" stroke-width="1.0"/>
<line x1="232.40" y1="519.50" x2="235.40" y2="519.50" stroke="#111" stroke-width="1.0"/>
<text x="230.50" y="519.06" font-size="7.83" text-anchor="middle" fill="#111" style="stroke:#111;stroke-width:0.4px">*</text>
<text x="233.90" y="519.06" font-size="7.83" text-anchor="middle" fill="#111" style="stroke:#111;stroke-width:0.4px">*</text>
<text x="237.30" y="519.06" font-size="7.83" text-anchor="middle" fill="#111" style="stroke:#111;stroke-width:0.4px">*</text>
<rect x="249.95" y="439.55" width="5.20" height="101.95" fill="#2c4a80" stroke="#243c68" stroke-width="0.7"/>
<line x1="252.55" y1="432.00" x2="252.55" y2="439.20" stroke="#111" stroke-width="1.0"/>
<line x1="251.05" y1="432.00" x2="254.05" y2="432.00" stroke="#111" stroke-width="1.0"/>
<rect x="261.25" y="538.35" width="5.30" height="3.15" fill="#a50a2e" stroke="#870825" stroke-width="0.7"/>
<line x1="263.90" y1="537.00" x2="263.90" y2="538.00" stroke="#111" stroke-width="1.0"/>
<line x1="262.40" y1="537.00" x2="265.40" y2="537.00" stroke="#111" stroke-width="1.0"/>
<text x="258.80" y="536.56" font-size="7.83" text-anchor="middle" fill="#111" style="stroke:#111;stroke-width:0.4px">*</text>
<text x="262.20" y="536.56" font-size="7.83" text-anchor="middle" fill="#111" style="stroke:#111;stroke-width:0.4px">*</text>
<text x="265.60" y="536.56" font-size="7.83" text-anchor="middle" fill="#111" style="stroke:#111;stroke-width:0.4px">*</text>
<text x="269.00" y="536.56" font-size="7.83" text-anchor="middle" fill="#111" style="stroke:#111;stroke-width:0.4px">*</text>
<rect x="280.35" y="439.55" width="5.20" height="101.95" fill="#2c4a80" stroke="#243c68" stroke-width="0.7"/>
<line x1="282.95" y1="424.50" x2="282.95" y2="439.20" stroke="#111" stroke-width="1.0"/>
<line x1="281.45" y1="424.50" x2="284.45" y2="424.50" stroke="#111" stroke-width="1.0"/>
<rect x="291.45" y="536.35" width="5.30" height="5.15" fill="#a50a2e" stroke="#870825" stroke-width="0.7"/>
<line x1="294.10" y1="534.20" x2="294.10" y2="536.00" stroke="#111" stroke-width="1.0"/>
<line x1="292.60" y1="534.20" x2="295.60" y2="534.20" stroke="#111" stroke-width="1.0"/>
<text x="290.70" y="533.76" font-size="7.83" text-anchor="middle" fill="#111" style="stroke:#111;stroke-width:0.4px">*</text>
<text x="294.10" y="533.76" font-size="7.83" text-anchor="middle" fill="#111" style="stroke:#111;stroke-width:0.4px">*</text>
<text x="297.50" y="533.76" font-size="7.83" text-anchor="middle" fill="#111" style="stroke:#111;stroke-width:0.4px">*</text>
<text x="159.30" y="552.60" font-size="8.8" textLength="27.70" lengthAdjust="spacingAndGlyphs">Round:</text>
<text x="198.15" y="552.60" font-size="8.8" text-anchor="middle">1</text>
<text x="228.25" y="552.60" font-size="8.8" text-anchor="middle">2</text>
<text x="258.25" y="552.60" font-size="8.8" text-anchor="middle">3</text>
<text x="288.55" y="552.60" font-size="8.8" text-anchor="middle">4</text>
<rect x="303.00" y="443.00" width="12.00" height="3.80" fill="#2c4a80"/>
<text x="318.80" y="448.00" font-size="9" textLength="36.20" lengthAdjust="spacingAndGlyphs">wild type</text>
<rect x="303.00" y="455.50" width="12.00" height="3.80" fill="#a50a2e"/>
<text x="318.8" y="460.3" font-size="9" fill="#1a1a1a" textLength="29.2" lengthAdjust="spacing"><tspan font-style="italic">Cdk6</tspan><tspan font-size="5.6" dy="-3.8">-/-</tspan></text>
<text x="371.80" y="410.10" font-size="13" font-weight="bold" fill="#000">G</text>
<text x="402.80" y="427.00" font-size="9.3" textLength="36.30" lengthAdjust="spacingAndGlyphs">wild type</text>
<text x="407.5" y="485.8" font-size="9.2" fill="#1a1a1a" textLength="28.4" lengthAdjust="spacing"><tspan font-style="italic">Cdk6</tspan><tspan font-size="5.6" dy="-3.8">-/-</tspan></text>
<defs><radialGradient id="cloud" cx="0.5" cy="0.5" r="0.5"><stop offset="0" stop-color="#b8b8b8" stop-opacity="0.55"/><stop offset="1" stop-color="#d0d0d0" stop-opacity="0"/></radialGradient><filter id="noise" x="0" y="0" width="100%" height="100%"><feTurbulence type="fractalNoise" baseFrequency="0.9" numOctaves="2" seed="3" result="n"/><feColorMatrix type="matrix" values="0 0 0 0 0  0 0 0 0 0  0 0 0 0 0  0 0 0 -2.2 1.25" result="a"/><feComposite in="a" in2="SourceGraphic" operator="in"/></filter></defs>
<rect x="399.3" y="431.90" width="43.6" height="43.2" fill="#ebebeb"/>
<rect x="399.3" y="431.90" width="43.6" height="43.2" fill="#000" opacity="0.10" filter="url(#noise)"/>
<rect x="399.3" y="489.80" width="43.6" height="43.2" fill="#ebebeb"/>
<rect x="399.3" y="489.80" width="43.6" height="43.2" fill="#000" opacity="0.10" filter="url(#noise)"/>
<ellipse cx="421.5" cy="512" rx="14" ry="13" fill="url(#cloud)"/>
<circle cx="428.4" cy="503.5" r="0.50" fill="#999"/><circle cx="424.8" cy="523.2" r="0.67" fill="#888"/><circle cx="426.4" cy="509.1" r="0.46" fill="#999"/><circle cx="423.8" cy="515.9" r="0.57" fill="#999"/><circle cx="417.9" cy="520.4" r="0.41" fill="#b0b0b0"/><circle cx="422.7" cy="511.4" r="0.36" fill="#b0b0b0"/><circle cx="415.8" cy="519.6" r="0.51" fill="#888"/><circle cx="427.6" cy="513.6" r="0.63" fill="#999"/><circle cx="422.9" cy="516.5" r="0.57" fill="#aaa"/><circle cx="429.9" cy="517.8" r="0.48" fill="#b0b0b0"/><circle cx="420.3" cy="512.1" r="0.51" fill="#aaa"/><circle cx="429.3" cy="501.6" r="0.69" fill="#b0b0b0"/><circle cx="417.5" cy="519.8" r="0.45" fill="#888"/><circle cx="425.3" cy="516.3" r="0.64" fill="#b0b0b0"/><circle cx="424.9" cy="518.2" r="0.65" fill="#b0b0b0"/><circle cx="418.2" cy="511.7" r="0.37" fill="#888"/><circle cx="414.8" cy="519.6" r="0.62" fill="#999"/><circle cx="419.9" cy="506.2" r="0.64" fill="#888"/><circle cx="426.0" cy="511.0" r="0.68" fill="#888"/><circle cx="423.9" cy="516.2" r="0.52" fill="#999"/><circle cx="416.6" cy="520.4" r="0.51" fill="#888"/><circle cx="414.9" cy="503.1" r="0.47" fill="#888"/><circle cx="420.8" cy="502.8" r="0.47" fill="#b0b0b0"/><circle cx="429.3" cy="503.6" r="0.69" fill="#b0b0b0"/><circle cx="409.0" cy="510.1" r="0.42" fill="#aaa"/><circle cx="425.0" cy="507.1" r="0.59" fill="#888"/><circle cx="420.3" cy="502.1" r="0.57" fill="#aaa"/><circle cx="409.2" cy="510.3" r="0.46" fill="#b0b0b0"/><circle cx="426.9" cy="505.8" r="0.60" fill="#888"/><circle cx="421.9" cy="512.1" r="0.57" fill="#b0b0b0"/><circle cx="421.7" cy="508.4" r="0.57" fill="#aaa"/><circle cx="420.5" cy="511.7" r="0.41" fill="#aaa"/><circle cx="430.6" cy="518.7" r="0.52" fill="#aaa"/><circle cx="414.6" cy="515.4" r="0.48" fill="#888"/><circle cx="414.1" cy="507.0" r="0.60" fill="#aaa"/><circle cx="418.0" cy="516.0" r="0.65" fill="#888"/><circle cx="417.2" cy="501.3" r="0.69" fill="#888"/><circle cx="418.9" cy="518.8" r="0.54" fill="#888"/><circle cx="416.7" cy="509.0" r="0.64" fill="#888"/><circle cx="424.0" cy="505.8" r="0.51" fill="#888"/><circle cx="419.3" cy="513.4" r="0.69" fill="#b0b0b0"/><circle cx="411.7" cy="503.9" r="0.64" fill="#888"/><circle cx="414.6" cy="517.5" r="0.55" fill="#888"/><circle cx="427.1" cy="518.0" r="0.50" fill="#b0b0b0"/><circle cx="408.8" cy="512.0" r="0.69" fill="#b0b0b0"/>
<g filter="url(#bl3)"><ellipse cx="422.5" cy="512.2" rx="1.6" ry="0.9" fill="#666"/></g>
<g filter="url(#bl4)"><path d="M424.75 455.10 L424.41 457.23 L423.39 459.29 L421.14 460.15 L418.90 460.61 L416.61 460.26 L414.96 458.77 L413.44 457.21 L412.86 455.10 L413.16 452.88 L415.03 451.50 L416.72 450.20 L418.90 450.01 L421.28 449.74 L423.22 451.08 L423.90 453.17Z" fill="#151515"/><ellipse cx="418.6" cy="455.0" rx="4.2" ry="3.9" fill="#000"/></g>
<rect x="399.3" y="431.90" width="43.6" height="43.2" fill="none" stroke="#1a1a1a" stroke-width="1.3"/>
<rect x="399.3" y="489.80" width="43.6" height="43.2" fill="none" stroke="#1a1a1a" stroke-width="1.3"/>
<text x="394.00" y="521.70" font-size="10.2" textLength="68.80" lengthAdjust="spacingAndGlyphs" transform="rotate(-90 394.00 521.70)">Replating Round 2</text>
<text x="7.90" y="576.00" font-size="13" font-weight="bold" fill="#000">H</text>
<text x="84.50" y="584.00" font-size="11.5" textLength="128.10" lengthAdjust="spacingAndGlyphs" word-spacing="1.6">NUP98/JARID1A AML cells</text>
<text x="93.70" y="596.10" font-size="11.5" textLength="109.10" lengthAdjust="spacingAndGlyphs" word-spacing="1.2">primary transplantation</text>
<line x1="55.40" y1="605.00" x2="55.40" y2="726.70" stroke="#111" stroke-width="1.6"/>
<line x1="54.60" y1="726.00" x2="240.40" y2="726.00" stroke="#111" stroke-width="1.5"/>
<line x1="52.20" y1="726.00" x2="55.40" y2="726.00" stroke="#111" stroke-width="1.1"/>
<text x="49.40" y="729.30" font-size="9.3" text-anchor="end" textLength="4.75" lengthAdjust="spacingAndGlyphs">0</text>
<line x1="52.20" y1="698.50" x2="55.40" y2="698.50" stroke="#111" stroke-width="1.1"/>
<text x="49.40" y="701.80" font-size="9.3" text-anchor="end" textLength="9.50" lengthAdjust="spacingAndGlyphs">25</text>
<line x1="52.20" y1="671.00" x2="55.40" y2="671.00" stroke="#111" stroke-width="1.1"/>
<text x="49.40" y="674.30" font-size="9.3" text-anchor="end" textLength="9.50" lengthAdjust="spacingAndGlyphs">50</text>
<line x1="52.20" y1="643.50" x2="55.40" y2="643.50" stroke="#111" stroke-width="1.1"/>
<text x="49.40" y="646.80" font-size="9.3" text-anchor="end" textLength="9.50" lengthAdjust="spacingAndGlyphs">75</text>
<line x1="52.20" y1="616.00" x2="55.40" y2="616.00" stroke="#111" stroke-width="1.1"/>
<text x="49.40" y="619.30" font-size="9.3" text-anchor="end" textLength="14.25" lengthAdjust="spacingAndGlyphs">100</text>
<line x1="55.40" y1="726.00" x2="55.40" y2="729.30" stroke="#111" stroke-width="1.1"/>
<text x="55.40" y="740.30" font-size="9.3" text-anchor="middle" textLength="4.75" lengthAdjust="spacingAndGlyphs">0</text>
<line x1="101.07" y1="726.00" x2="101.07" y2="729.30" stroke="#111" stroke-width="1.1"/>
<text x="101.07" y="740.30" font-size="9.3" text-anchor="middle" textLength="4.75" lengthAdjust="spacingAndGlyphs">7</text>
<line x1="146.74" y1="726.00" x2="146.74" y2="729.30" stroke="#111" stroke-width="1.1"/>
<text x="146.74" y="740.30" font-size="9.3" text-anchor="middle" textLength="9.50" lengthAdjust="spacingAndGlyphs">14</text>
<line x1="192.40" y1="726.00" x2="192.40" y2="729.30" stroke="#111" stroke-width="1.1"/>
<text x="192.40" y="740.30" font-size="9.3" text-anchor="middle" textLength="9.50" lengthAdjust="spacingAndGlyphs">21</text>
<line x1="238.07" y1="726.00" x2="238.07" y2="729.30" stroke="#111" stroke-width="1.1"/>
<text x="238.07" y="740.30" font-size="9.3" text-anchor="middle" textLength="9.50" lengthAdjust="spacingAndGlyphs">28</text>
<text x="28.50" y="684.30" font-size="10.3" textLength="36.60" lengthAdjust="spacingAndGlyphs" transform="rotate(-90 28.50 684.30)">% survival</text>
<text x="101.90" y="754.60" font-size="10.5" textLength="92.60" lengthAdjust="spacingAndGlyphs">Days post transplantation</text>
<path d="M55.40 616.50 L153.20 616.50 L153.20 643.70 L166.20 643.70 L166.20 671.30 L179.20 671.30 L179.20 726.00" stroke="#2e4d82" stroke-width="1.6" fill="none" stroke-linejoin="miter"/>
<path d="M55.40 613.70 L192.20 613.70 L192.20 641.80 L198.60 641.80 L198.60 697.60 L224.70 697.60 L224.70 726.00" stroke="#a30624" stroke-width="1.6" fill="none" stroke-linejoin="miter"/>
<line x1="81.20" y1="693.80" x2="92.70" y2="693.80" stroke="#2e4d82" stroke-width="1.5"/>
<line x1="81.20" y1="704.90" x2="92.70" y2="704.90" stroke="#a30624" stroke-width="1.5"/>
<text x="97.80" y="696.20" font-size="8.3" textLength="32.90" lengthAdjust="spacingAndGlyphs">wild type</text>
<text x="97.8" y="708.5" font-size="8.3" fill="#1a1a1a" textLength="27.6" lengthAdjust="spacing"><tspan font-style="italic">Cdk6</tspan><tspan font-size="5.2" dy="-5"> -/-</tspan></text>
<path d="M132.7 690.6 L135.0 690.6 L135.0 708.4 L132.7 708.4" stroke="#111" stroke-width="1.1" fill="none"/>
<text x="140.20" y="703.76" font-size="8.12" text-anchor="middle" fill="#111" style="stroke:#111;stroke-width:0.4px">*</text>
<text x="143.80" y="703.76" font-size="8.12" text-anchor="middle" fill="#111" style="stroke:#111;stroke-width:0.4px">*</text>
<text x="259.30" y="575.70" font-size="13" font-weight="bold" fill="#000">I</text>
<text x="325.00" y="583.80" font-size="11.5" textLength="127.70" lengthAdjust="spacingAndGlyphs" word-spacing="1.6">NUP98/JARID1A AML cells</text>
<text x="327.90" y="595.80" font-size="11.5" textLength="121.60" lengthAdjust="spacingAndGlyphs" word-spacing="1.2">secondary transplantation</text>
<line x1="295.10" y1="602.20" x2="295.10" y2="726.90" stroke="#111" stroke-width="1.7"/>
<line x1="294.30" y1="726.20" x2="482.30" y2="726.20" stroke="#111" stroke-width="1.5"/>
<line x1="292.00" y1="726.20" x2="295.30" y2="726.20" stroke="#111" stroke-width="1.1"/>
<text x="288.40" y="729.50" font-size="9.3" text-anchor="end" textLength="4.75" lengthAdjust="spacingAndGlyphs">0</text>
<line x1="292.00" y1="696.90" x2="295.30" y2="696.90" stroke="#111" stroke-width="1.1"/>
<text x="288.40" y="700.20" font-size="9.3" text-anchor="end" textLength="9.50" lengthAdjust="spacingAndGlyphs">25</text>
<line x1="292.00" y1="667.60" x2="295.30" y2="667.60" stroke="#111" stroke-width="1.1"/>
<text x="288.40" y="670.90" font-size="9.3" text-anchor="end" textLength="9.50" lengthAdjust="spacingAndGlyphs">50</text>
<line x1="292.00" y1="638.30" x2="295.30" y2="638.30" stroke="#111" stroke-width="1.1"/>
<text x="288.40" y="641.60" font-size="9.3" text-anchor="end" textLength="9.50" lengthAdjust="spacingAndGlyphs">75</text>
<line x1="292.00" y1="609.00" x2="295.30" y2="609.00" stroke="#111" stroke-width="1.1"/>
<text x="288.40" y="612.30" font-size="9.3" text-anchor="end" textLength="14.25" lengthAdjust="spacingAndGlyphs">100</text>
<line x1="295.30" y1="726.20" x2="295.30" y2="729.50" stroke="#111" stroke-width="1.1"/>
<text x="295.30" y="740.30" font-size="9.3" text-anchor="middle" textLength="4.75" lengthAdjust="spacingAndGlyphs">0</text>
<line x1="325.95" y1="726.20" x2="325.95" y2="729.50" stroke="#111" stroke-width="1.1"/>
<text x="325.95" y="740.30" font-size="9.3" text-anchor="middle" textLength="4.75" lengthAdjust="spacingAndGlyphs">7</text>
<line x1="356.61" y1="726.20" x2="356.61" y2="729.50" stroke="#111" stroke-width="1.1"/>
<text x="356.61" y="740.30" font-size="9.3" text-anchor="middle" textLength="9.50" lengthAdjust="spacingAndGlyphs">14</text>
<line x1="387.26" y1="726.20" x2="387.26" y2="729.50" stroke="#111" stroke-width="1.1"/>
<text x="387.26" y="740.30" font-size="9.3" text-anchor="middle" textLength="9.50" lengthAdjust="spacingAndGlyphs">21</text>
<line x1="417.91" y1="726.20" x2="417.91" y2="729.50" stroke="#111" stroke-width="1.1"/>
<text x="417.91" y="740.30" font-size="9.3" text-anchor="middle" textLength="9.50" lengthAdjust="spacingAndGlyphs">28</text>
<line x1="448.56" y1="726.20" x2="448.56" y2="729.50" stroke="#111" stroke-width="1.1"/>
<text x="448.56" y="740.30" font-size="9.3" text-anchor="middle" textLength="9.50" lengthAdjust="spacingAndGlyphs">35</text>
<line x1="479.22" y1="726.20" x2="479.22" y2="729.50" stroke="#111" stroke-width="1.1"/>
<text x="479.22" y="740.30" font-size="9.3" text-anchor="middle" textLength="9.50" lengthAdjust="spacingAndGlyphs">42</text>
<text x="267.90" y="683.00" font-size="10.3" textLength="36.90" lengthAdjust="spacingAndGlyphs" transform="rotate(-90 267.90 683.00)">% survival</text>
<text x="342.60" y="754.60" font-size="10.5" textLength="92.60" lengthAdjust="spacingAndGlyphs">Days post transplantation</text>
<path d="M295.30 609.40 L339.09 609.40 L339.09 628.70 L343.47 628.70 L343.47 667.60 L347.85 667.60 L347.85 726.20" stroke="#2e4d82" stroke-width="1.6" fill="none" stroke-linejoin="miter"/>
<path d="M295.30 607.40 L347.85 607.40 L347.85 630.00 L352.23 630.00 L352.23 654.60 L356.61 654.60 L356.61 726.20" stroke="#2e4d82" stroke-width="1.6" fill="none" stroke-linejoin="miter" stroke-dasharray="3.5 2.3" stroke-dashoffset="0.9"/>
<path d="M295.30 605.10 L382.88 605.10 L382.88 645.40 L387.26 645.40 L387.26 726.20" stroke="#a30624" stroke-width="1.6" fill="none" stroke-linejoin="miter"/>
<path d="M295.30 603.40 L396.02 603.40 L396.02 626.50 L409.15 626.50 L409.15 649.70 L479.22 649.70" stroke="#a30624" stroke-width="1.6" fill="none" stroke-linejoin="miter" stroke-dasharray="3.5 2.3" stroke-dashoffset="0.9"/>
<line x1="401.50" y1="669.90" x2="413.00" y2="669.90" stroke="#2e4d82" stroke-width="1.5"/>
<line x1="401.50" y1="681.90" x2="413.00" y2="681.90" stroke="#a30624" stroke-width="1.5"/>
<line x1="401.50" y1="698.10" x2="413.00" y2="698.10" stroke="#2e4d82" stroke-width="1.5" stroke-dasharray="3.5 3.5"/>
<line x1="401.50" y1="709.20" x2="413.00" y2="709.20" stroke="#a30624" stroke-width="1.5" stroke-dasharray="3.5 3.5"/>
<text x="416.9" y="672.70" font-size="8.3" fill="#1a1a1a" textLength="81.2" lengthAdjust="spacing">wild type (5x10<tspan font-size="5" dy="-3.4">5</tspan><tspan dy="3.4"> cells)</tspan></text>
<text x="416.9" y="684.90" font-size="8.3" fill="#1a1a1a" textLength="72.4" lengthAdjust="spacing"><tspan font-style="italic">Cdk6</tspan><tspan font-size="5" dy="-3.4">-/-</tspan><tspan dy="3.4"> (5x10</tspan><tspan font-size="5" dy="-3.4">5</tspan><tspan dy="3.4"> cells)</tspan></text>
<text x="416.9" y="701.50" font-size="8.3" fill="#1a1a1a" textLength="81.2" lengthAdjust="spacing">wild type (1x10<tspan font-size="5" dy="-3.4">5</tspan><tspan dy="3.4"> cells)</tspan></text>
<text x="416.9" y="712.60" font-size="8.3" fill="#1a1a1a" textLength="72.4" lengthAdjust="spacing"><tspan font-style="italic">Cdk6</tspan><tspan font-size="5" dy="-3.4">-/-</tspan><tspan dy="3.4"> (1x10</tspan><tspan font-size="5" dy="-3.4">5</tspan><tspan dy="3.4"> cells)</tspan></text>
<path d="M499.5 667.0 L502.6 667.0 L502.6 685.4 L499.5 685.4" stroke="#111" stroke-width="1.1" fill="none"/>
<path d="M499.5 694.3 L502.6 694.3 L502.6 714.1 L499.5 714.1" stroke="#111" stroke-width="1.1" fill="none"/>
<text x="506.40" y="680.36" font-size="8.12" text-anchor="middle" fill="#111" style="stroke:#111;stroke-width:0.4px">*</text>
<text x="506.60" y="708.56" font-size="8.12" text-anchor="middle" fill="#111" style="stroke:#111;stroke-width:0.4px">*</text>
<text x="510.20" y="708.56" font-size="8.12" text-anchor="middle" fill="#111" style="stroke:#111;stroke-width:0.4px">*</text>
<rect x="0.00" y="0.00" width="1.30" height="766.00" fill="#000"/>
<rect x="0.00" y="0.00" width="520.00" height="1.30" fill="#000"/>
<rect x="518.80" y="0.00" width="1.20" height="766.00" fill="#000"/>
<rect x="0.00" y="764.80" width="520.00" height="1.20" fill="#000"/>
</svg>
</body></html>
